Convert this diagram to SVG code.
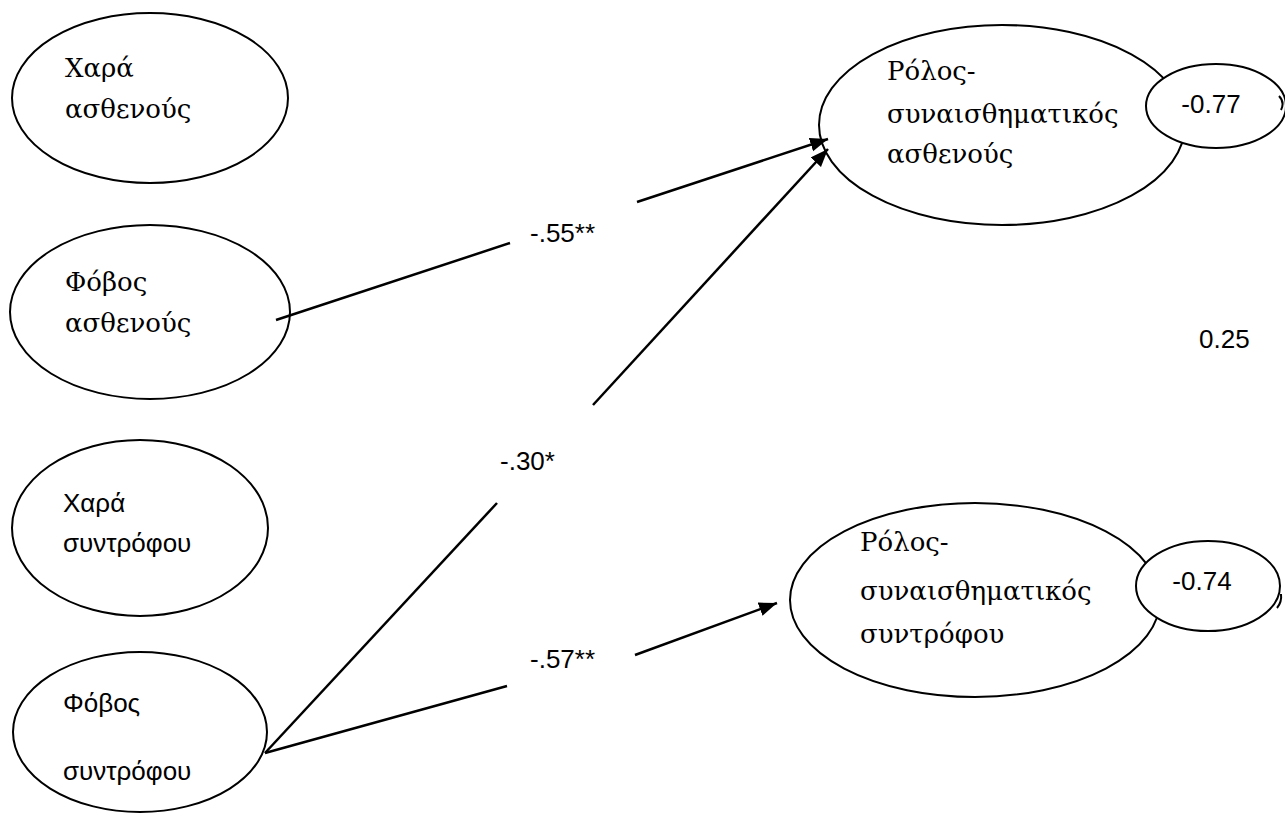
<svg xmlns="http://www.w3.org/2000/svg" width="1285" height="814" viewBox="0 0 1285 814">
<style>
.node{fill:#fff;stroke:#000;stroke-width:2}
.serif{font-family:'DejaVu Serif', serif;font-size:26px;fill:#000}
.sans{font-family:'Liberation Sans', sans-serif;font-size:26px;fill:#000}
.mid{text-anchor:middle}
.conn{stroke:#000;stroke-width:2.5;fill:none}
.thin{stroke:#000;stroke-width:2;fill:none}
</style>
<defs>
<marker id="arr" markerUnits="userSpaceOnUse" markerWidth="20" markerHeight="16" refX="18" refY="7" orient="auto">
<path d="M0,0 L18,7 L0,14 z" fill="#000"/>
</marker>
</defs>
<rect width="1285" height="814" fill="#fff"/>

<g id="n-chara-asthenous">
<ellipse class="node" cx="150" cy="98" rx="138" ry="85"/>
<text class="serif" x="65" y="77">Χαρά</text>
<text class="serif" x="65" y="118">ασθενούς</text>
</g>
<g id="n-fovos-asthenous">
<ellipse class="node" cx="150" cy="312" rx="140" ry="87"/>
<text class="serif" x="65" y="291">Φόβος</text>
<text class="serif" x="65" y="332">ασθενούς</text>
</g>
<g id="n-chara-syntrofou">
<ellipse class="node" cx="140" cy="528" rx="128" ry="88"/>
<text class="sans" x="63" y="512">Χαρά</text>
<text class="sans" x="63" y="552">συντρόφου</text>
</g>
<g id="n-fovos-syntrofou">
<ellipse class="node" cx="140" cy="732" rx="127" ry="80"/>
<text class="sans" x="63" y="712">Φόβος</text>
<text class="sans" x="63" y="780">συντρόφου</text>
</g>

<g id="n-rolos-asthenous">
<ellipse class="node" cx="1002" cy="125" rx="183" ry="100"/>
<text class="serif" x="887" y="80">Ρόλος-</text>
<text class="serif" x="887" y="123">συναισθηματικός</text>
<text class="serif" x="887" y="163">ασθενούς</text>
</g>
<g id="n-rolos-syntrofou">
<ellipse class="node" cx="975" cy="600" rx="185" ry="97"/>
<text class="serif" x="860" y="551">Ρόλος-</text>
<text class="serif" x="860" y="600">συναισθηματικός</text>
<text class="serif" x="860" y="643">συντρόφου</text>
</g>
<g id="n-err-asthenous">
<ellipse class="node" cx="1216" cy="106" rx="70" ry="42"/>
<text class="sans mid" x="1211" y="113">-0.77</text>
</g>
<g id="n-err-syntrofou">
<ellipse class="node" cx="1208" cy="586" rx="72" ry="45"/>
<text class="sans mid" x="1202" y="590">-0.74</text>
</g>

<g id="connectors">
<line class="conn" x1="276" y1="320" x2="510" y2="243"/>
<line class="conn" x1="637" y1="202" x2="828" y2="139" marker-end="url(#arr)"/>
<line class="conn" x1="265" y1="753" x2="497" y2="503"/>
<line class="conn" x1="593" y1="405" x2="828" y2="149" marker-end="url(#arr)"/>
<line class="conn" x1="265" y1="753" x2="507" y2="686"/>
<line class="conn" x1="635" y1="655" x2="777" y2="603" marker-end="url(#arr)"/>
<path class="thin" d="M1279,96 Q1285,102 1281,110"/>
<path class="thin" d="M1281,594 Q1282,602 1277,608"/>
</g>

<g id="labels">
<text class="sans" x="530" y="242">-.55**</text>
<text class="sans" x="500" y="470">-.30*</text>
<text class="sans" x="530" y="668">-.57**</text>
<text class="sans" x="1199" y="348">0.25</text>
</g>
</svg>
